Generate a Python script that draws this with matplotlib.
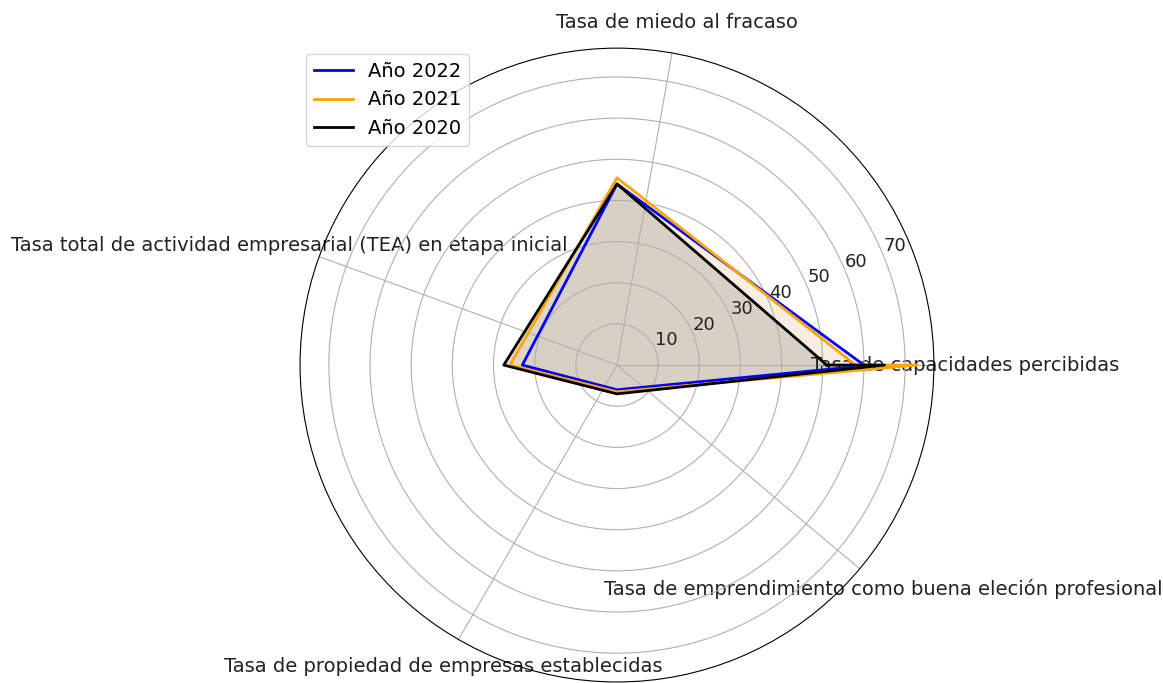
import numpy as np
import matplotlib.pyplot as plt

categorias = ['Tasa de capacidades percibidas',
              'Tasa de miedo al fracaso',
              'Tasa total de actividad empresarial (TEA) en etapa inicial',
              'Tasa de propiedad de empresas establecidas',
              'Tasa de emprendimiento como buena eleción profesional']

anio_2022 = [60, 44, 23, 6, 62]
anio_2021 = [58, 45.5, 26, 6.5, 73]
anio_2020 = [51, 44, 27.5, 7, 65]

# angulos de los datos (el ultimo cae sobre el primero)
angulos = np.linspace(0, 2 * np.pi, len(categorias))
# angulos de las etiquetas
angulos_etiquetas = np.arange(0, 360, 80)

fig = plt.figure(figsize=(11.63, 6.83), dpi=100)
ax = fig.add_axes([0.258, 0.0015, 0.545, 0.928], polar=True)

series = [('Año 2022', anio_2022, 'blue', 0.03),
          ('Año 2021', anio_2021, 'orange', 0.12),
          ('Año 2020', anio_2020, 'black', 0.12)]

for nombre, valores, color, alfa in series:
    v = valores + valores[:1]
    a = list(angulos) + [angulos[0]]
    ax.plot(a, v, color=color, linewidth=2, label=nombre)
    ax.fill(a, v, color=color, alpha=alfa, linewidth=0)

ax.set_thetagrids(angulos_etiquetas, categorias, fontsize=14, color='#222222')
ax.tick_params(axis='x', pad=12)
ax.set_rticks([10, 20, 30, 40, 50, 60, 70])
ax.tick_params(axis='y', labelsize=13, labelcolor='#222222')
ax.set_rmax(77)

ax.legend(loc='upper left', fontsize=14, borderaxespad=0.3)

plt.savefig('out.png')
